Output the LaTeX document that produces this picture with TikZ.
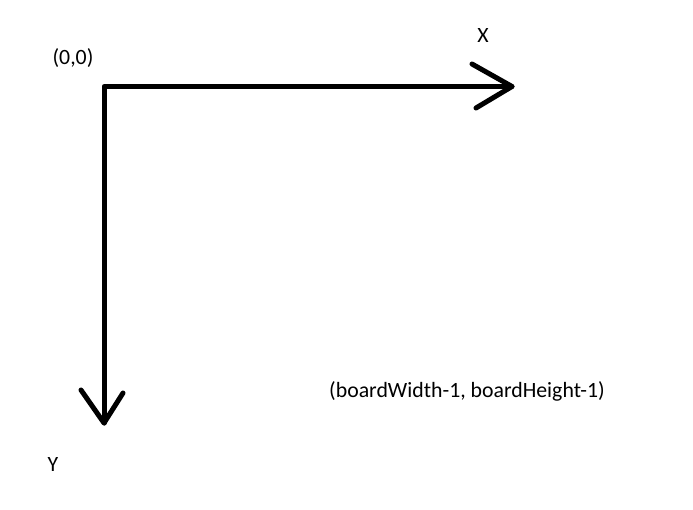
\documentclass[tikz,border=0pt]{standalone}
\usepackage{fontspec}
\setmainfont{Carlito}
\begin{document}
\begin{tikzpicture}[x=1pt,y=-1pt,
  axis/.style={line width=5pt,line cap=round,line join=round,black},
  lbl/.style={inner sep=0pt,font=\fontsize{21.8}{26}\selectfont,text=black}]
\useasboundingbox[fill=white] (0,0) rectangle (693,510);
\coordinate (O) at (104,86.5);
\coordinate (Xtip) at (512,86.5);
\coordinate (Xb1) at (472,64);
\coordinate (Xb2) at (476,108);
\coordinate (Ytip) at (104,423);
\coordinate (Yb1) at (81,390);
\coordinate (Yb2) at (123,393);
\draw[axis] (Xtip) -- (O) -- (Ytip);
\draw[axis] (Xb1) -- (Xtip) -- (Xb2);
\draw[axis] (Yb1) -- (Ytip) -- (Yb2);
\node[lbl] (origin) at (73,58) {(0,0)};
\node[lbl] (xl) at (483,36) {X};
\node[lbl] (yl) at (53,465) {Y};
\node[lbl] (corner) at (467,391) {(boardWidth-1, boardHeight-1)};
\end{tikzpicture}
\end{document}
